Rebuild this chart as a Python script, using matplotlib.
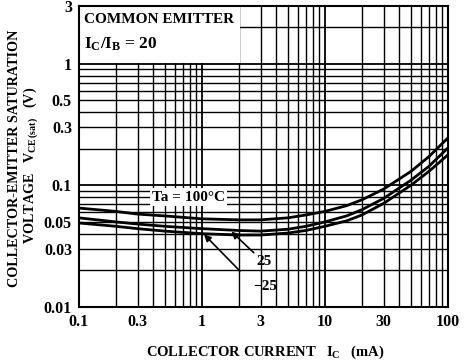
"""Collector-emitter saturation voltage vs collector current (datasheet style)."""

import matplotlib.pyplot as plt
from matplotlib.patches import Rectangle

plt.rcParams["font.family"] = ["Liberation Serif", "DejaVu Serif"]
plt.rcParams["font.weight"] = "bold"
plt.rcParams["mathtext.fontset"] = "custom"
plt.rcParams["mathtext.rm"] = "Liberation Serif:bold"
plt.rcParams["mathtext.it"] = "Liberation Serif:bold"

# data
ic = [0.1, 0.2, 0.3, 0.5, 1, 2, 3, 5, 7, 10, 15, 20, 30, 50, 70, 100]
v_100 = [0.065, 0.061, 0.058, 0.056, 0.053, 0.052, 0.052, 0.054, 0.057, 0.061, 0.068, 0.076,
         0.093, 0.13, 0.172, 0.245]
v_25 = [0.054, 0.050, 0.048, 0.046, 0.044, 0.0425, 0.042, 0.0435, 0.046, 0.050, 0.056, 0.063,
        0.078, 0.11, 0.143, 0.203]
v_m25 = [0.049, 0.046, 0.044, 0.042, 0.040, 0.039, 0.039, 0.0405, 0.0425, 0.046, 0.051, 0.057,
         0.071, 0.10, 0.13, 0.178]

x_ticks = [0.1, 0.3, 1, 3, 10, 30, 100]
x_labels = ["0.1", "0.3", "1", "3", "10", "30", "100"]
y_ticks = [0.01, 0.03, 0.05, 0.1, 0.3, 0.5, 1, 3]
y_labels = ["0.01", "0.03", "0.05", "0.1", "0.3", "0.5", "1", "3"]

fig = plt.figure(figsize=(4.67, 3.64), dpi=100)
ax = fig.add_axes([0.169, 0.157, 0.79, 0.827])
ax.set_xscale("log")
ax.set_yscale("log")
ax.set_xlim(0.1, 100)
ax.set_ylim(0.01, 3)

# grid: every 1..9 of each decade
for d in [0.1, 1, 10]:
    for k in range(1, 10):
        x = d * k
        if 0.1 < x < 100:
            ax.axvline(x, color="black", lw=1.3 if k == 1 else 1.0, zorder=0.5)
for d in [0.01, 0.1, 1]:
    for k in range(1, 10):
        y = d * k
        if 0.01 < y < 3:
            ax.axhline(y, color="black", lw=1.3 if k == 1 else 1.0, zorder=0.5)

# white area behind the condition text
ax.add_patch(Rectangle((0.1, 1.02), 1.96, 2.0, facecolor="white", edgecolor="none", zorder=1))

for v in (v_100, v_25, v_m25):
    ax.plot(ic, v, color="black", lw=2.0, zorder=3)

ax.set_xticks(x_ticks)
ax.set_xticklabels(x_labels)
ax.set_yticks(y_ticks)
ax.set_yticklabels(y_labels)
ax.minorticks_off()
ax.tick_params(length=0, labelsize=11.5, pad=5)
for s in ax.spines.values():
    s.set_linewidth(1.5)

ax.text(0.014, 0.953, "COMMON EMITTER", transform=ax.transAxes, fontsize=11, va="center", zorder=4)
ax.text(0.014, 0.872, r"I$_{\rm C}$/I$_{\rm B}$ = 20", transform=ax.transAxes, fontsize=12.5,
        va="center", zorder=4)

ax.text(0.78, 0.08, "Ta = 100°C", fontsize=11, ha="center", va="center", zorder=4,
        bbox=dict(facecolor="white", edgecolor="none", pad=1.5))

ax.annotate("25", xy=(1.74, 0.0416), xytext=(2.75, 0.0234), fontsize=11, ha="left", va="center",
            zorder=4, arrowprops=dict(arrowstyle="-|>", color="black", lw=1.2,
                                      mutation_scale=10, shrinkA=0, shrinkB=0))
ax.annotate("", xy=(1.04, 0.0395), xytext=(2.04, 0.0197), zorder=4,
            arrowprops=dict(arrowstyle="-|>", color="black", lw=1.2,
                            mutation_scale=10, shrinkA=0, shrinkB=0))
ax.text(2.6, 0.0146, "−25", fontsize=11, ha="left", va="center", zorder=4)

fig.text(0.567, 0.033, r"COLLECTOR CURRENT   I$_{\rm C}$   (mA)", ha="center", va="center", fontsize=10.5)
fig.text(0.030, 0.566, "COLLECTOR-EMITTER SATURATION", rotation=90, ha="center", va="center",
         fontsize=10.2)
fig.text(0.066, 0.547, r"VOLTAGE   V$_{\rm CE\,(sat)}$   (V)", rotation=90, ha="center",
         va="center", fontsize=10.2)

fig.savefig("out.png", dpi=100)
